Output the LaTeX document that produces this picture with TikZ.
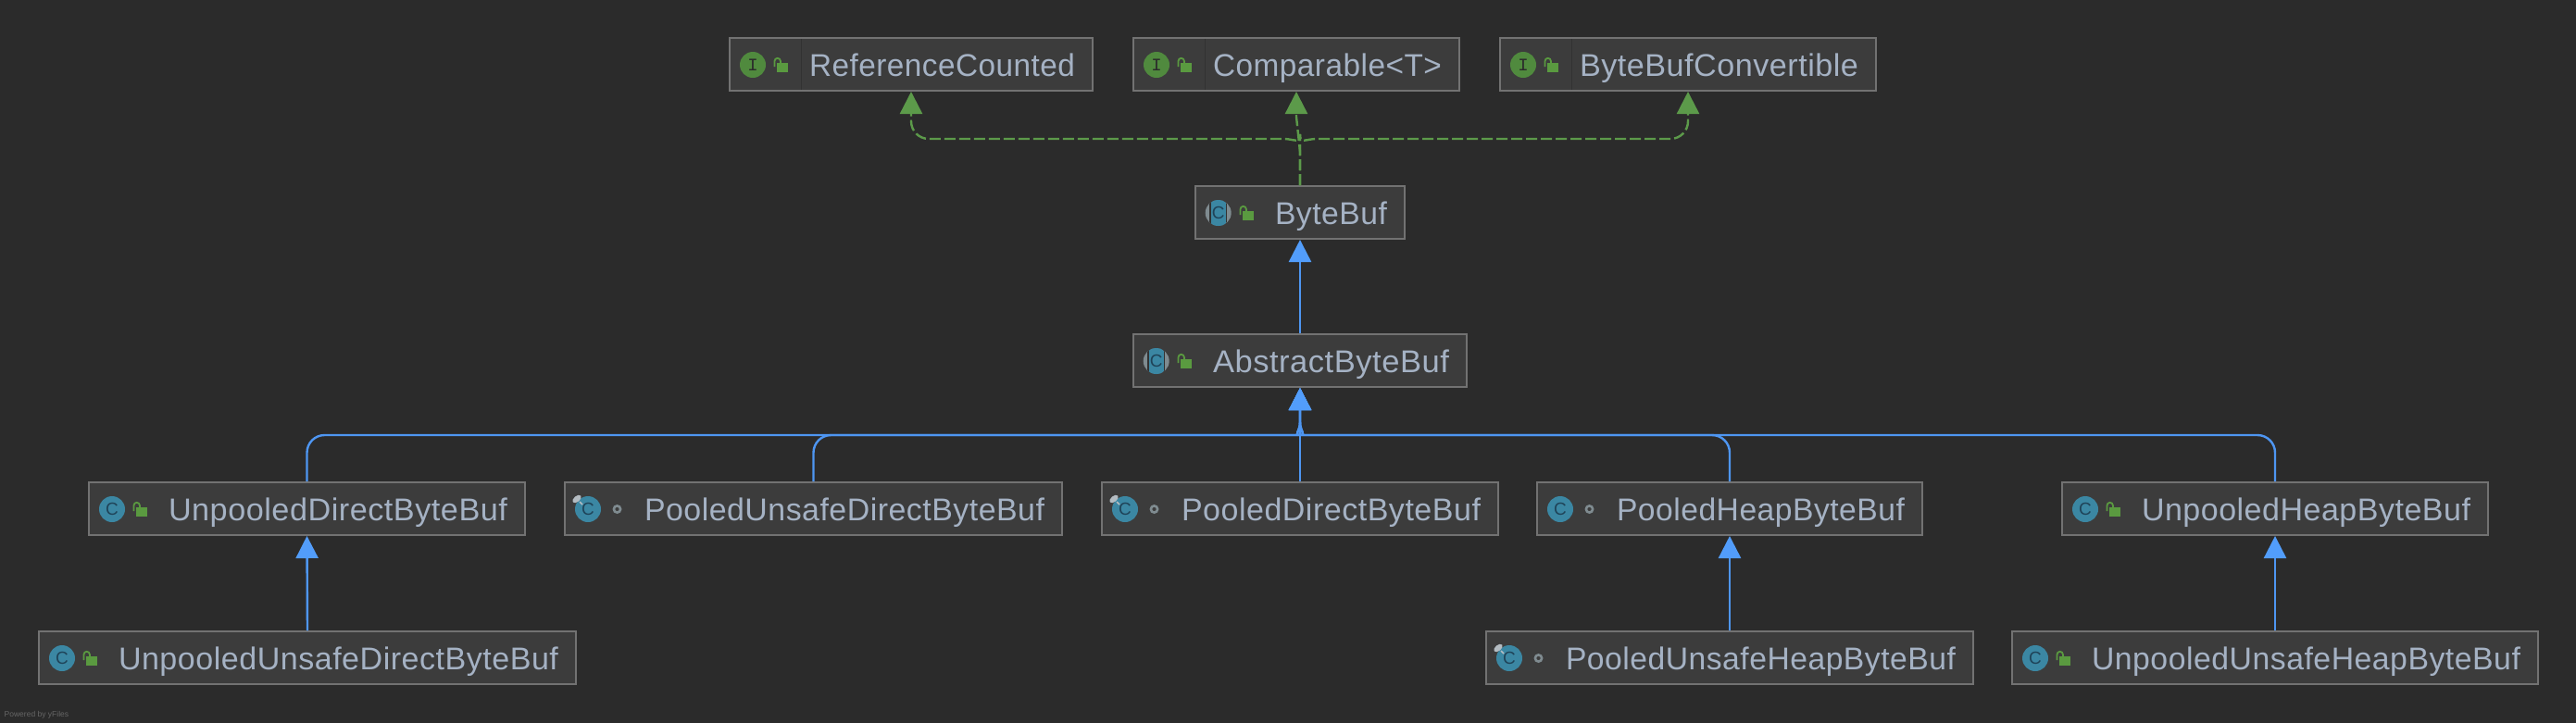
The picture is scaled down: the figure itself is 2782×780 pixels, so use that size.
\documentclass[tikz,border=0pt]{standalone}
\usepackage{graphicx}
\usepackage{fontspec}
\usetikzlibrary{arrows.meta}
\setmainfont{Liberation Sans}
\newfontfamily\lblfont[LetterSpace=1.5]{Liberation Sans}
\newfontfamily\markmono{Liberation Mono}
\definecolor{bgc}{HTML}{2B2B2B}
\definecolor{boxfill}{HTML}{3C3C3C}
\definecolor{boxline}{HTML}{727272}
\definecolor{txtc}{HTML}{A5B2C4}
\definecolor{bluec}{HTML}{4E96F2}
\definecolor{bluetip}{HTML}{529DFB}
\definecolor{greenc}{HTML}{5C9A4A}
\definecolor{teal2}{HTML}{3B87A3}
\definecolor{green2}{HTML}{508A3E}
\definecolor{lockc}{HTML}{5A9A40}
\definecolor{markc}{HTML}{1F4358}
\definecolor{ringc}{HTML}{7F8B90}
\definecolor{pinc}{HTML}{B4BCC2}
\tikzset{
  umlbox/.style={draw=boxline,fill=boxfill,line width=2pt,inner sep=0pt,anchor=north west,
    text=txtc,font=\lblfont\fontsize{34}{36}\selectfont,text height=32.5pt,text depth=7pt},
  inh/.style={draw=bluec,line width=2.4pt,-{Triangle[width=24pt,length=24pt,color=bluetip]}},
  impl/.style={draw=greenc,line width=2.4pt,dash pattern=on 12pt off 4pt,
    -{Triangle[width=24pt,length=24pt,color=greenc,sep=0pt]}},
  iconmark/.style={inner sep=0pt,text=markc,font=\fontsize{19}{20}\selectfont}
}
% id, left, right, top, text
\newcommand{\umlnode}[5]{%
  \pgfmathsetmacro{\bw}{#3-#2-2}%
  \pgfmathsetmacro{\tw}{#3-#2-107}%
  \node[umlbox,minimum width=\bw pt,minimum height=57pt] (#1) at (#2,#4)
    {\makebox[\bw pt][l]{\hspace{86pt}\resizebox{\tw pt}{\height}{#5}}};}
\newcommand{\iconC}[1]{%
  \begin{scope}[shift={(#1.north west)}]
    \fill[teal2] (26,30) circle (14);
    \node[iconmark] (#1mark) at (26,30) {C};
  \end{scope}}
\newcommand{\iconP}[1]{%
  \begin{scope}[shift={(#1.north west)}]
    \fill[teal2] (26,30) circle (14);
    \node[iconmark] (#1mark) at (26,30) {C};
    \fill[pinc,rotate around={40:(14,19)}] (14,19) ellipse (5.5 and 3.2);
    \draw[pinc,line width=1.5pt] (17,22) -- (20,25);
  \end{scope}}
\newcommand{\iconA}[1]{%
  \begin{scope}[shift={(#1.north west)}]
    \fill[ringc] (25.7,30) circle (14);
    \begin{scope}
      \clip (25.7,30) circle (14);
      \fill[bgc!60!boxfill] (16,15) rectangle (35.4,45);
      \fill[teal2] (17.7,15) rectangle (33.7,45);
    \end{scope}
    \node[iconmark] (#1mark) at (25.7,30) {C};
  \end{scope}}
\newcommand{\iconI}[1]{%
  \begin{scope}[shift={(#1.north west)}]
    \fill[green2] (26,30) circle (14);
    \node[iconmark,text=bgc,font=\markmono\fontsize{19}{20}\selectfont] (#1mark) at (26,30) {I};
    \draw[bgc!60!boxfill,line width=1pt] (78,2) -- (78,57);
  \end{scope}}
\newcommand{\lockmark}[1]{%
  \begin{scope}[shift={(#1.north west)}]
    \fill[lockc] (52,28) rectangle (64,38);
    \draw[lockc,line width=1.8pt] (49.5,32) -- (49.5,26) arc[start angle=180,end angle=360,x radius=3.2,y radius=3.2] -- (55.9,29);
  \end{scope}}
\newcommand{\ringmark}[1]{%
  \begin{scope}[shift={(#1.north west)}]
    \draw[ringc,line width=2.6pt] (57.5,30) circle (3.6);
  \end{scope}}
\begin{document}
\begin{tikzpicture}[x=1pt,y=-1pt]
  \useasboundingbox (0,0) rectangle (2782,780);
  \fill[bgc] (-3,-3) rectangle (2785,783);

  \coordinate (busL) at (1385,470);
  \coordinate (busR) at (1423,470);
  \coordinate (busM) at (1404,456);
  \coordinate (implL) at (1386,150);
  \coordinate (implR) at (1422,150);
  \coordinate (implM) at (1404,164);
  \coordinate (implT) at (1400,126);

  \umlnode{RC}{787}{1181}{40}{ReferenceCounted}
  \umlnode{CMP}{1223}{1577}{40}{Comparable<T>}
  \umlnode{BBC}{1619}{2027}{40}{ByteBufConvertible}
  \umlnode{BB}{1290}{1518}{200}{ByteBuf}
  \umlnode{ABB}{1223}{1585}{360}{AbstractByteBuf}
  \umlnode{UDB}{95}{568}{520}{UnpooledDirectByteBuf}
  \umlnode{PUDB}{609}{1148}{520}{PooledUnsafeDirectByteBuf}
  \umlnode{PDB}{1189}{1619}{520}{PooledDirectByteBuf}
  \umlnode{PHB}{1659}{2077}{520}{PooledHeapByteBuf}
  \umlnode{UHB}{2226}{2688}{520}{UnpooledHeapByteBuf}
  \umlnode{UUDB}{41}{623}{681}{UnpooledUnsafeDirectByteBuf}
  \umlnode{PUHB}{1604}{2132}{681}{PooledUnsafeHeapByteBuf}
  \umlnode{UUHB}{2172}{2742}{681}{UnpooledUnsafeHeapByteBuf}

  \iconI{RC}\lockmark{RC}
  \iconI{CMP}\lockmark{CMP}
  \iconI{BBC}\lockmark{BBC}
  \iconA{BB}\lockmark{BB}
  \iconA{ABB}\lockmark{ABB}
  \iconC{UDB}\lockmark{UDB}
  \iconP{PUDB}\ringmark{PUDB}
  \iconP{PDB}\ringmark{PDB}
  \iconC{PHB}\ringmark{PHB}
  \iconC{UHB}\lockmark{UHB}
  \iconC{UUDB}\lockmark{UUDB}
  \iconP{PUHB}\ringmark{PUHB}
  \iconC{UUHB}\lockmark{UUHB}

  % implements
  \draw[impl,rounded corners=19pt] (BB.north) -- (implM) [sharp corners] .. controls (1404,156) and (1398,150) .. (implL) [rounded corners=19pt] -| (RC.south);
  \draw[impl] (BB.north) -- (implM) -- (implT) -- (CMP.south);
  \draw[impl,rounded corners=19pt] (BB.north) -- (implM) [sharp corners] .. controls (1404,156) and (1410,150) .. (implR) [rounded corners=19pt] -| (BBC.south);

  % extends
  \draw[inh] (ABB.north) -- (BB.south);
  \draw[inh,rounded corners=19pt] (UDB.north) |- (busL) [sharp corners] .. controls (1397,470) and (1404,466) .. (busM) -- (ABB.south);
  \draw[inh,rounded corners=19pt] (PUDB.north) |- (busL) [sharp corners] .. controls (1397,470) and (1404,466) .. (busM) -- (ABB.south);
  \draw[inh] (PDB.north) -- (ABB.south);
  \draw[inh,rounded corners=19pt] (PHB.north) |- (busR) [sharp corners] .. controls (1411,470) and (1404,466) .. (busM) -- (ABB.south);
  \draw[inh,rounded corners=19pt] (UHB.north) |- (busR) [sharp corners] .. controls (1411,470) and (1404,466) .. (busM) -- (ABB.south);
  \draw[inh] (UUDB.north) -- (UDB.south);
  \draw[inh] (PUHB.north) -- (PHB.south);
  \draw[inh] (UUHB.north) -- (UHB.south);

  \node[inner sep=0pt,anchor=west,text=gray!70!bgc,font=\fontsize{8.5}{10}\selectfont] (yf) at (4.5,772) {Powered by yFiles};
\end{tikzpicture}
\end{document}
